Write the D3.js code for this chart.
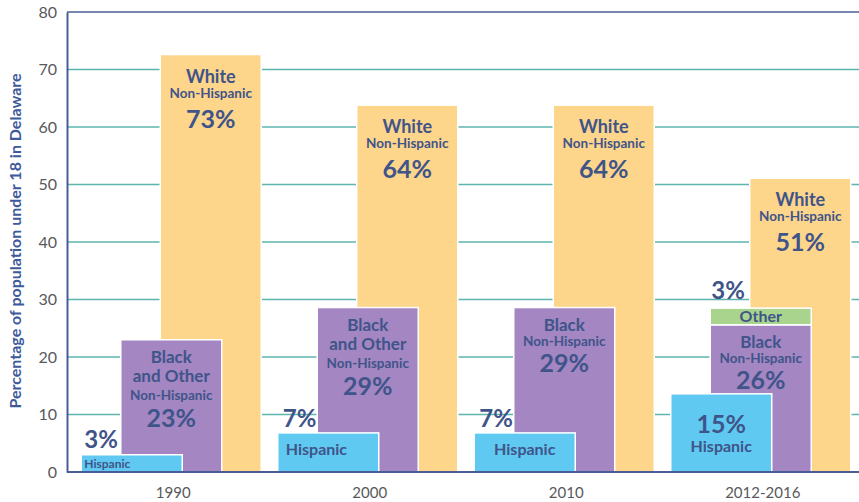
<!DOCTYPE html>
<html>
<head>
<meta charset="utf-8">
<script src="https://cdn.jsdelivr.net/npm/d3@7"></script>
<style>
  body { margin: 0; background: #fff; }
  svg { display: block; font-family: Lato, "Open Sans", sans-serif; }
</style>
</head>
<body>
<div id="chart"></div>
<script>
// Data (bar heights in %, labels as printed)
const years = ['1990', '2000', '2010', '2012-2016'];
const hispanic = [3, 6.8, 6.8, 13.6];
const black = [23, 28.6, 28.6, 25.6];
const other = [0, 0, 0, 2.9];
const white = [72.6, 63.8, 63.8, 51.1];
const hispanicLabels = ['3%', '7%', '7%', '15%'];
const blackLabels = ['23%', '29%', '29%', '26%'];
const otherLabels = ['', '', '', '3%'];
const whiteLabels = ['73%', '64%', '64%', '51%'];
const blackNames = [['Black', 'and Other'], ['Black', 'and Other'], ['Black'], ['Black']];
const yTicks = [0, 10, 20, 30, 40, 50, 60, 70, 80];

const width = 859, height = 502;
const plotLeft = 67, plotTop = 12, plotBottom = 472;

const svg = d3.select('#chart').append('svg')
    .attr('width', width)
    .attr('height', height);

const y = d3.scaleLinear().domain([0, 80]).range([plotBottom, plotTop]);
const x = d3.scaleBand().domain(years).range([75, 861]);
const sub = d3.scalePoint().domain(['hispanic', 'black', 'white']).range([-92, -13]);
const barW = 101;
const cx = d => x(d) + x.bandwidth() / 2;

const textColor = '#3f5489';
const axisColor = '#4a5c96';

// grid lines
svg.append('g').selectAll('line')
    .data(yTicks.filter(t => t > 0 && t < 80))
    .enter().append('line')
    .attr('x1', plotLeft).attr('x2', width)
    .attr('y1', d => y(d)).attr('y2', d => y(d))
    .attr('stroke', '#5db5ae')
    .attr('stroke-width', 1.5);

function bars(vals, key, color, base) {
    svg.append('g').selectAll('rect')
        .data(years)
        .enter().append('rect')
        .attr('x', (d, i) => cx(d) + sub(key))
        .attr('y', (d, i) => y((base ? base[i] : 0) + vals[i]))
        .attr('width', barW)
        .attr('height', (d, i) => y(base ? base[i] : 0) - y((base ? base[i] : 0) + vals[i]))
        .attr('fill', color)
        .attr('stroke', '#fff')
        .attr('stroke-width', (d, i) => vals[i] > 0 ? 1.5 : 0);
}

bars(white, 'white', '#fdd58b');
bars(black, 'black', '#a386c2');
bars(other, 'black', '#a9d48d', black);
bars(hispanic, 'hispanic', '#5fc9f1');

const labels = svg.append('g').attr('fill', textColor).attr('font-weight', 700);

function txt(xp, yp, s, size, anchor) {
    labels.append('text')
        .attr('x', xp).attr('y', yp)
        .attr('font-size', size)
        .attr('text-anchor', anchor || 'middle')
        .text(s);
}

years.forEach((d, i) => {
    // white
    const wx = cx(d) + sub('white') + barW / 2;
    const wt = y(white[i]);
    txt(wx, wt + 28, 'White', 18);
    txt(wx, wt + 43, 'Non-Hispanic', 13.5);
    txt(wx, wt + 73, whiteLabels[i], 25);

    // black
    const bx = cx(d) + sub('black') + barW / 2;
    const bt = y(black[i]);
    const names = blackNames[i];
    if (names.length === 2) {
        txt(bx, bt + 23, names[0], 17);
        txt(bx, bt + 42, names[1], 17);
        txt(bx, bt + 60, 'Non-Hispanic', 13.5);
        txt(bx, bt + 87, blackLabels[i], 25);
    } else {
        txt(bx, bt + 23, names[0], 17);
        txt(bx, bt + 38, 'Non-Hispanic', 13.5);
        txt(bx, bt + 64, blackLabels[i], 25);
    }

    // other
    if (other[i] > 0) {
        const ot = y(black[i] + other[i]);
        txt(bx, ot + 14, 'Other', 16);
        txt(cx(d) + sub('black') + 1, ot - 9, otherLabels[i], 24, 'start');
    }

    // hispanic
    const hl = cx(d) + sub('hispanic');
    const ht = y(hispanic[i]);
    if (i === 0) {
        txt(hl + 3, ht - 7, hispanicLabels[i], 24, 'start');
        txt(hl + 3, plotBottom - 4, 'Hispanic', 12, 'start');
    } else if (i < 3) {
        txt(hl + 5, ht - 6, hispanicLabels[i], 24, 'start');
        txt(i === 1 ? hl + 8 : hl + barW / 2, plotBottom - 17, 'Hispanic', 16, i === 1 ? 'start' : 'middle');
    } else {
        txt(hl + barW / 2, ht + 39, hispanicLabels[i], 25);
        txt(hl + barW / 2, ht + 58, 'Hispanic', 16);
    }
});

// frame lines
svg.append('line')
    .attr('x1', plotLeft).attr('x2', width)
    .attr('y1', plotTop).attr('y2', plotTop)
    .attr('stroke', axisColor).attr('stroke-width', 1.5);
svg.append('line')
    .attr('x1', plotLeft).attr('x2', width)
    .attr('y1', plotBottom).attr('y2', plotBottom)
    .attr('stroke', axisColor).attr('stroke-width', 2);

// y axis
const yAxis = svg.append('g')
    .attr('transform', `translate(${plotLeft},0)`)
    .call(d3.axisLeft(y).tickValues(yTicks).tickSize(0).tickPadding(10));
yAxis.select('.domain').attr('stroke', axisColor).attr('stroke-width', 2);
yAxis.selectAll('text')
    .attr('font-family', 'Lato, sans-serif')
    .attr('font-size', 16)
    .attr('fill', '#58595b');

// x axis labels
const xAxis = svg.append('g')
    .attr('transform', `translate(0,${plotBottom})`)
    .call(d3.axisBottom(x).tickSize(0).tickPadding(15));
xAxis.select('.domain').remove();
xAxis.selectAll('text')
    .attr('font-family', 'Lato, sans-serif')
    .attr('font-size', 15)
    .attr('fill', '#58595b');

// y axis title
svg.append('text')
    .attr('transform', 'translate(21,241) rotate(-90)')
    .attr('text-anchor', 'middle')
    .attr('font-size', 16)
    .attr('font-weight', 700)
    .attr('fill', '#3e5a9a')
    .text('Percentage of population under 18 in Delaware');
</script>
</body>
</html>
